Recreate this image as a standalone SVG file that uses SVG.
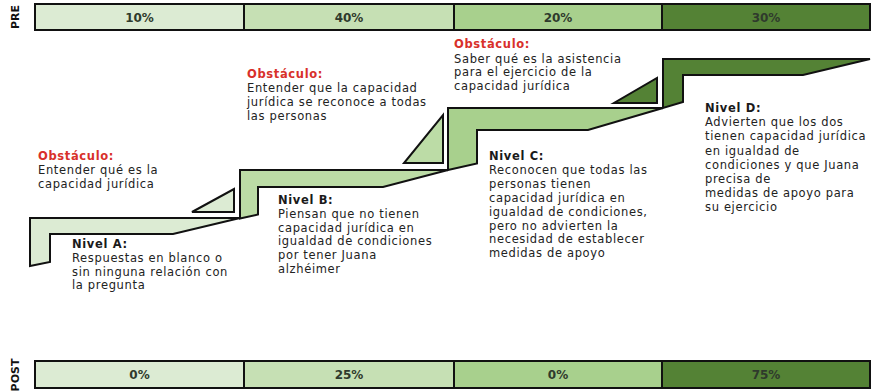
<svg xmlns="http://www.w3.org/2000/svg" width="873" height="392" viewBox="0 0 873 392">
<style>
.bar{stroke:#111;stroke-width:2}
.bt{font-family:"DejaVu Sans",sans-serif;font-weight:bold;font-size:12px;fill:#2f3a2c;text-anchor:middle}
.side{font-family:"DejaVu Sans",sans-serif;font-weight:bold;font-size:11px;fill:#111;text-anchor:middle}
.st{stroke:#111;stroke-width:2;stroke-linejoin:miter}
.t{font-family:"DejaVu Sans",sans-serif;font-size:11.5px;letter-spacing:0.65px;fill:#222}
.h{font-weight:bold;fill:#1a1a1a}
.o{font-weight:bold;fill:#d8302a}
.c1{fill:#dcebd3}.c2{fill:#bcdca6}.c3{fill:#a8d08d}.c4{fill:#548235}
</style>
<rect width="873" height="392" fill="#fff"/>
<g id="bar-pre">
<rect class="bar c1" x="35" y="4" width="209" height="26"/>
<rect class="bar" x="244" y="4" width="210" height="26" fill="#c6e0b4"/>
<rect class="bar c3" x="454" y="4" width="208" height="26"/>
<rect class="bar c4" x="662" y="4" width="208" height="26"/>
<text class="bt" x="139.5" y="21.5">10%</text>
<text class="bt" x="349" y="21.5">40%</text>
<text class="bt" x="558" y="21.5">20%</text>
<text class="bt" x="766" y="21.5">30%</text>
<text class="side" transform="translate(19,17) rotate(-90)">PRE</text>
</g>
<g id="bar-post">
<rect class="bar c1" x="35" y="361" width="209" height="27"/>
<rect class="bar" x="244" y="361" width="210" height="27" fill="#c6e0b4"/>
<rect class="bar c3" x="454" y="361" width="208" height="27"/>
<rect class="bar c4" x="662" y="361" width="208" height="27"/>
<text class="bt" x="139.5" y="379">0%</text>
<text class="bt" x="349" y="379">25%</text>
<text class="bt" x="558" y="379">0%</text>
<text class="bt" x="766" y="379">75%</text>
<text class="side" transform="translate(19,375) rotate(-90)">POST</text>
</g>
<g id="step-a">
<polygon class="st c1" points="30,266 30,218 240,218 173,234 50,234 50,262"/>
<polygon class="st c1" points="192,212 234,212 234,189"/>
</g>
<g id="step-b">
<polygon class="st c2" points="240,218.6 240,170 448,170 383,187 258,187 258,214.5"/>
<polygon class="st c2" points="404,163 443,163 443,115"/>
</g>
<g id="step-c">
<polygon class="st c3" points="448,170 448,108 663,108 588,130 477,130 477,163.5"/>
<polygon class="st c4" points="614,103 657,103 657,78"/>
</g>
<g id="step-d">
<polygon class="st c4" points="663,108 663,59 870,59 803,75 683,75 683,102"/>
</g>
<g id="connectors"/>
<g id="obstaculo-1" class="t">
<text x="38" y="160" class="o">Obstáculo:</text>
<text x="38" y="174">Entender qué es la</text>
<text x="38" y="188">capacidad jurídica</text>
</g>
<g id="nivel-a" class="t">
<text x="72" y="248" class="h">Nivel A:</text>
<text x="72" y="262">Respuestas en blanco o</text>
<text x="72" y="275.5">sin ninguna relación con</text>
<text x="72" y="289">la pregunta</text>
</g>
<g id="obstaculo-2" class="t">
<text x="247" y="78" class="o">Obstáculo:</text>
<text x="247" y="92">Entender que la capacidad</text>
<text x="247" y="106">jurídica se reconoce a todas</text>
<text x="247" y="120">las personas</text>
</g>
<g id="nivel-b" class="t">
<text x="278" y="204" class="h">Nivel B:</text>
<text x="278" y="217.8">Piensan que no tienen</text>
<text x="278" y="231.6">capacidad jurídica en</text>
<text x="278" y="245.4">igualdad de condiciones</text>
<text x="278" y="259.2">por tener Juana</text>
<text x="278" y="273">alzhéimer</text>
</g>
<g id="obstaculo-3" class="t">
<text x="454" y="48" class="o">Obstáculo:</text>
<text x="454" y="62.5">Saber qué es la asistencia</text>
<text x="454" y="76">para el ejercicio de la</text>
<text x="454" y="90">capacidad jurídica</text>
</g>
<g id="nivel-c" class="t">
<text x="489" y="160" class="h">Nivel C:</text>
<text x="489" y="173.9">Reconocen que todas las</text>
<text x="489" y="187.8">personas tienen</text>
<text x="489" y="201.7">capacidad jurídica en</text>
<text x="489" y="215.6">igualdad de condiciones,</text>
<text x="489" y="229.5">pero no advierten la</text>
<text x="489" y="243.4">necesidad de establecer</text>
<text x="489" y="257.3">medidas de apoyo</text>
</g>
<g id="nivel-d" class="t">
<text x="705" y="112" class="h">Nivel D:</text>
<text x="705" y="126.2">Advierten que los dos</text>
<text x="705" y="140.4">tienen capacidad jurídica</text>
<text x="705" y="154.6">en igualdad de</text>
<text x="705" y="168.8">condiciones y que Juana</text>
<text x="705" y="183">precisa de</text>
<text x="705" y="197.2">medidas de apoyo para</text>
<text x="705" y="211.4">su ejercicio</text>
</g>
</svg>
